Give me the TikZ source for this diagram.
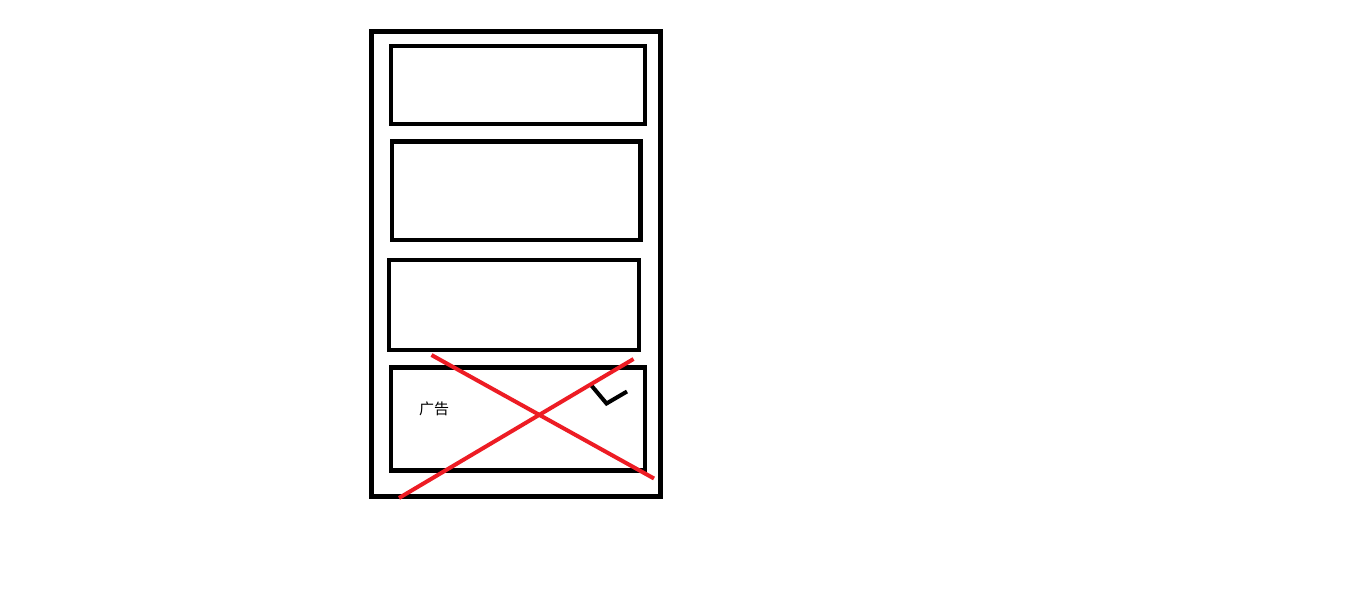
\documentclass[tikz,border=0pt]{standalone}
\usepackage{fontspec}
\usepackage{tikz}
\usepackage{xcolor}
\usetikzlibrary{positioning}
\newfontfamily\cjk{Noto Sans CJK SC}
\definecolor{crossred}{HTML}{ED1C24}

\begin{document}
\begin{tikzpicture}[x=1pt, y=-1pt,
            frame/.style={rectangle, draw=black, line width=5pt, inner sep=0pt},
            panel/.style={rectangle, draw=black, line width=4.5pt, inner sep=0pt},
            cross/.style={crossred, line width=4pt},
            tick/.style={black, line width=4pt}]
            \useasboundingbox[fill=white] (0,0) rectangle (1360,591);
            \node[frame, minimum width=288.5pt, minimum height=464.5pt] (phone) at (515.75,263.75) {};
            \node[panel, minimum width=254pt, minimum height=78pt] (p1) at (518,85) {};
            \node[panel, minimum width=248.5pt, minimum height=98.5pt] (p2) at (516.25,190.75) {};
            \node[panel, minimum width=250pt, minimum height=90pt] (p3) at (514,305) {};
            \node[panel, minimum width=254pt, minimum height=103pt] (ad) at (518,419) {};
            \node[font=\cjk\fontsize{15}{18}\selectfont] (adtext) at (434,409) {广告};
            % check mark
            \coordinate (t1) at (591,385);
            \coordinate (t2) at (606.5,403.5);
            \coordinate (t3) at (627,391.5);
            \draw[tick] (t1)--(t2)--(t3);
            % red cross over the ad
            \coordinate (c1) at (431.5,355);
            \coordinate (c2) at (654,478.5);
            \coordinate (c3) at (399,498);
            \coordinate (c4) at (633.5,359);
            \draw[cross] (c1)--(c2);
            \draw[cross] (c3)--(c4);
        \end{tikzpicture}
\end{document}
